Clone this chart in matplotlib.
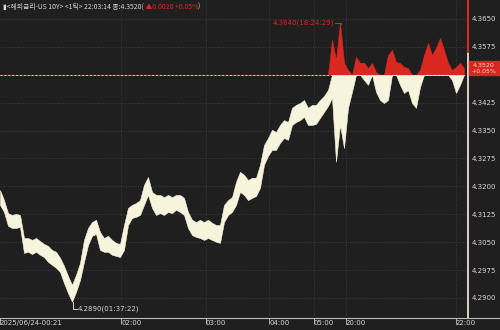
import numpy as np
import matplotlib
matplotlib.use("Agg")
import matplotlib.pyplot as plt
from matplotlib.transforms import blended_transform_factory
from matplotlib.patches import Rectangle
from matplotlib.lines import Line2D

# tick data, one bar per sample (high / low)
hi = [4.3190, 4.3163, 4.3128, 4.3123, 4.3126, 4.3123, 4.3061, 4.3061, 4.3056, 4.3061,
      4.3053, 4.3045, 4.3040, 4.3029, 4.3024, 4.3008, 4.2986, 4.2959, 4.2935, 4.2962,
      4.2994, 4.3056, 4.3088, 4.3104, 4.3110, 4.3077, 4.3061, 4.3067, 4.3056, 4.3048,
      4.3045, 4.3096, 4.3142, 4.3150, 4.3155, 4.3163, 4.3204, 4.3225, 4.3185, 4.3177,
      4.3177, 4.3171, 4.3177, 4.3171, 4.3177, 4.3177, 4.3169, 4.3131, 4.3110, 4.3104,
      4.3110, 4.3104, 4.3110, 4.3102, 4.3096, 4.3096, 4.3150, 4.3163, 4.3171, 4.3212,
      4.3239, 4.3231, 4.3217, 4.3223, 4.3223, 4.3258, 4.3311, 4.3330, 4.3352, 4.3346,
      4.3365, 4.3378, 4.3373, 4.3411, 4.3419, 4.3424, 4.3432, 4.3411, 4.3419, 4.3419,
      4.3432, 4.3443, 4.3459, 4.3594, 4.3540, 4.3640, 4.3532, 4.3513, 4.3500, 4.3548,
      4.3532, 4.3532, 4.3518, 4.3532, 4.3507, 4.3500, 4.3500, 4.3553, 4.3567, 4.3534,
      4.3532, 4.3521, 4.3518, 4.3500, 4.3500, 4.3513, 4.3553, 4.3585, 4.3553, 4.3572,
      4.3599, 4.3567, 4.3532, 4.3513, 4.3521, 4.3532, 4.3518]
lo = [4.3150, 4.3131, 4.3094, 4.3088, 4.3088, 4.3091, 4.3021, 4.3024, 4.3018, 4.3024,
      4.3016, 4.3010, 4.2997, 4.2989, 4.2981, 4.2970, 4.2940, 4.2913, 4.2890, 4.2916,
      4.2948, 4.2997, 4.3042, 4.3067, 4.3072, 4.3029, 4.3024, 4.3024, 4.3016, 4.3013,
      4.3010, 4.3029, 4.3096, 4.3115, 4.3118, 4.3123, 4.3150, 4.3177, 4.3142, 4.3123,
      4.3128, 4.3123, 4.3131, 4.3128, 4.3137, 4.3131, 4.3123, 4.3088, 4.3069, 4.3064,
      4.3061, 4.3056, 4.3061, 4.3056, 4.3051, 4.3048, 4.3104, 4.3123, 4.3131, 4.3150,
      4.3185, 4.3177, 4.3163, 4.3169, 4.3174, 4.3196, 4.3258, 4.3282, 4.3298, 4.3298,
      4.3317, 4.3330, 4.3325, 4.3365, 4.3373, 4.3378, 4.3387, 4.3365, 4.3365, 4.3368,
      4.3384, 4.3400, 4.3416, 4.3438, 4.3266, 4.3365, 4.3303, 4.3411, 4.3454, 4.3500,
      4.3500, 4.3486, 4.3473, 4.3500, 4.3454, 4.3432, 4.3424, 4.3432, 4.3500, 4.3500,
      4.3473, 4.3451, 4.3459, 4.3424, 4.3411, 4.3467, 4.3500, 4.3500, 4.3500, 4.3500,
      4.3500, 4.3500, 4.3500, 4.3486, 4.3451, 4.3473, 4.3500]

base = 4.3500      # previous close
last = 4.3520
change = "+0.05%"

time_ticks = [0, 30.25, 51.5, 67.25, 78.5, 86.5, 114]
time_labels = ["2025/06/24-00:21", "02:00", "03:00", "04:00", "05:00", "20:00", "22:00"]
price_ticks = [4.2900, 4.2975, 4.3050, 4.3125, 4.3200, 4.3275, 4.3350, 4.3425,
               4.3575, 4.3650]

BG = "#1f1f1f"
CREAM = "#f6f4dc"
RED = "#d9281f"
GRID = "#454545"
TXT = "#d8d8d8"
NUM = ["Liberation Sans Narrow", "DejaVu Sans"]

hi = np.array(hi)
lo = np.array(lo)
x = np.arange(len(hi))

fig = plt.figure(figsize=(5, 3.3), dpi=100, facecolor=BG)
ax = fig.add_axes([0, 12 / 330, 468 / 500, 318 / 330])
ax.set_facecolor(BG)
ax.set_xlim(0, 117)
ax.set_ylim(4.2846, 4.3701)

# grid
for p in price_ticks:
    ax.axhline(p, color=GRID, lw=0.6, ls=(0, (1, 2)), zorder=0)
for t in time_ticks[1:]:
    ax.axvline(t, color=GRID, lw=0.6, ls=(0, (1, 2)), zorder=0)

# red above previous close, cream below
ax.fill_between(x, np.maximum(lo, base), np.maximum(hi, base),
                color=RED, lw=0.4, ec=RED, zorder=2)
ax.fill_between(x, np.minimum(lo, base), np.minimum(hi, base),
                color=CREAM, lw=0.4, ec=CREAM, zorder=2)
ax.axhline(base, color="#d0d0d0", lw=0.7, ls=(0, (2, 2)), zorder=3)

# high / low markers
ih = int(np.argmax(hi))
ax.plot([ih - 1.3, ih + 0.2, ih + 0.2], [hi[ih], hi[ih], hi[ih] - 0.0004],
        color=RED, lw=0.7, zorder=4)
ax.text(ih - 1.4, hi[ih], "%.4f(18:24:29)" % hi[ih], color=RED, fontsize=5,
        ha="right", va="center", family=NUM)
il = int(np.argmin(lo))
ax.plot([il + 0.2, il + 0.2, il + 1.2], [lo[il], lo[il] - 0.0019, lo[il] - 0.0019],
        color=TXT, lw=0.7, zorder=4)
ax.text(il + 1.3, lo[il] - 0.0019, "%.4f(01:37:22)" % lo[il], color=TXT, fontsize=5,
        ha="left", va="center", family=NUM)

# axes
for s in ["top", "left", "bottom"]:
    ax.spines[s].set_visible(False)
ax.spines["right"].set_color(CREAM)
ax.spines["right"].set_linewidth(1.2)
ax.axvline(117, ymin=(4.3560 - 4.2846) / (4.3701 - 4.2846), ymax=1, color=RED, lw=1.4,
           clip_on=False, zorder=5)
fig.add_artist(Line2D([0, 1], [12 / 330, 12 / 330], color="#bdbdbd", lw=0.8))

ax.yaxis.tick_right()
ax.set_yticks(price_ticks)
ax.set_yticklabels(["%.4f" % p for p in price_ticks])
ax.tick_params(axis="y", length=0, pad=3, labelsize=5, labelcolor=TXT)
ax.set_xticks(time_ticks)
ax.set_xticklabels(time_labels)
ax.tick_params(axis="x", length=4, width=0.6, color="#bdbdbd", pad=-2.5,
               labelsize=5, labelcolor=TXT)
for lab in ax.get_xticklabels() + ax.get_yticklabels():
    lab.set_family(NUM)
for lab in ax.get_xticklabels():
    lab.set_ha("left")

# current price box
tr = blended_transform_factory(fig.transFigure, ax.transData)
ax.add_patch(Rectangle((469 / 500, base), 31 / 500, 0.0037, transform=tr,
                       color=RED, clip_on=False, zorder=6))
ax.text(484 / 500, base + 0.0026, "%.4f" % last, transform=tr, fontsize=4.5,
        color="#f3d6d0", ha="center", va="center", family=NUM, zorder=7)
ax.text(484 / 500, base + 0.0010, change, transform=tr, fontsize=4.5,
        color="#f3d6d0", ha="center", va="center", family=NUM, zorder=7)

# header
hdr = ["Noto Sans CJK KR", "DejaVu Sans"]
t1 = fig.text(3 / 500, 1 - 7 / 330, "▮<해외금리-US 10Y> <1틱> 22:03:14 종:%.4f(" % last,
              color=TXT, fontsize=4.9, va="center", family=hdr)
t2 = ax.annotate(" ▲0.0020 %s" % change, xy=(1, 0.5), xycoords=t1, va="center",
                 color=RED, fontsize=4.9, family=hdr)
ax.annotate(")", xy=(1, 0.5), xycoords=t2, va="center", color=TXT, fontsize=4.9,
            family=hdr)

fig.savefig("out.png", dpi=100, facecolor=BG)
